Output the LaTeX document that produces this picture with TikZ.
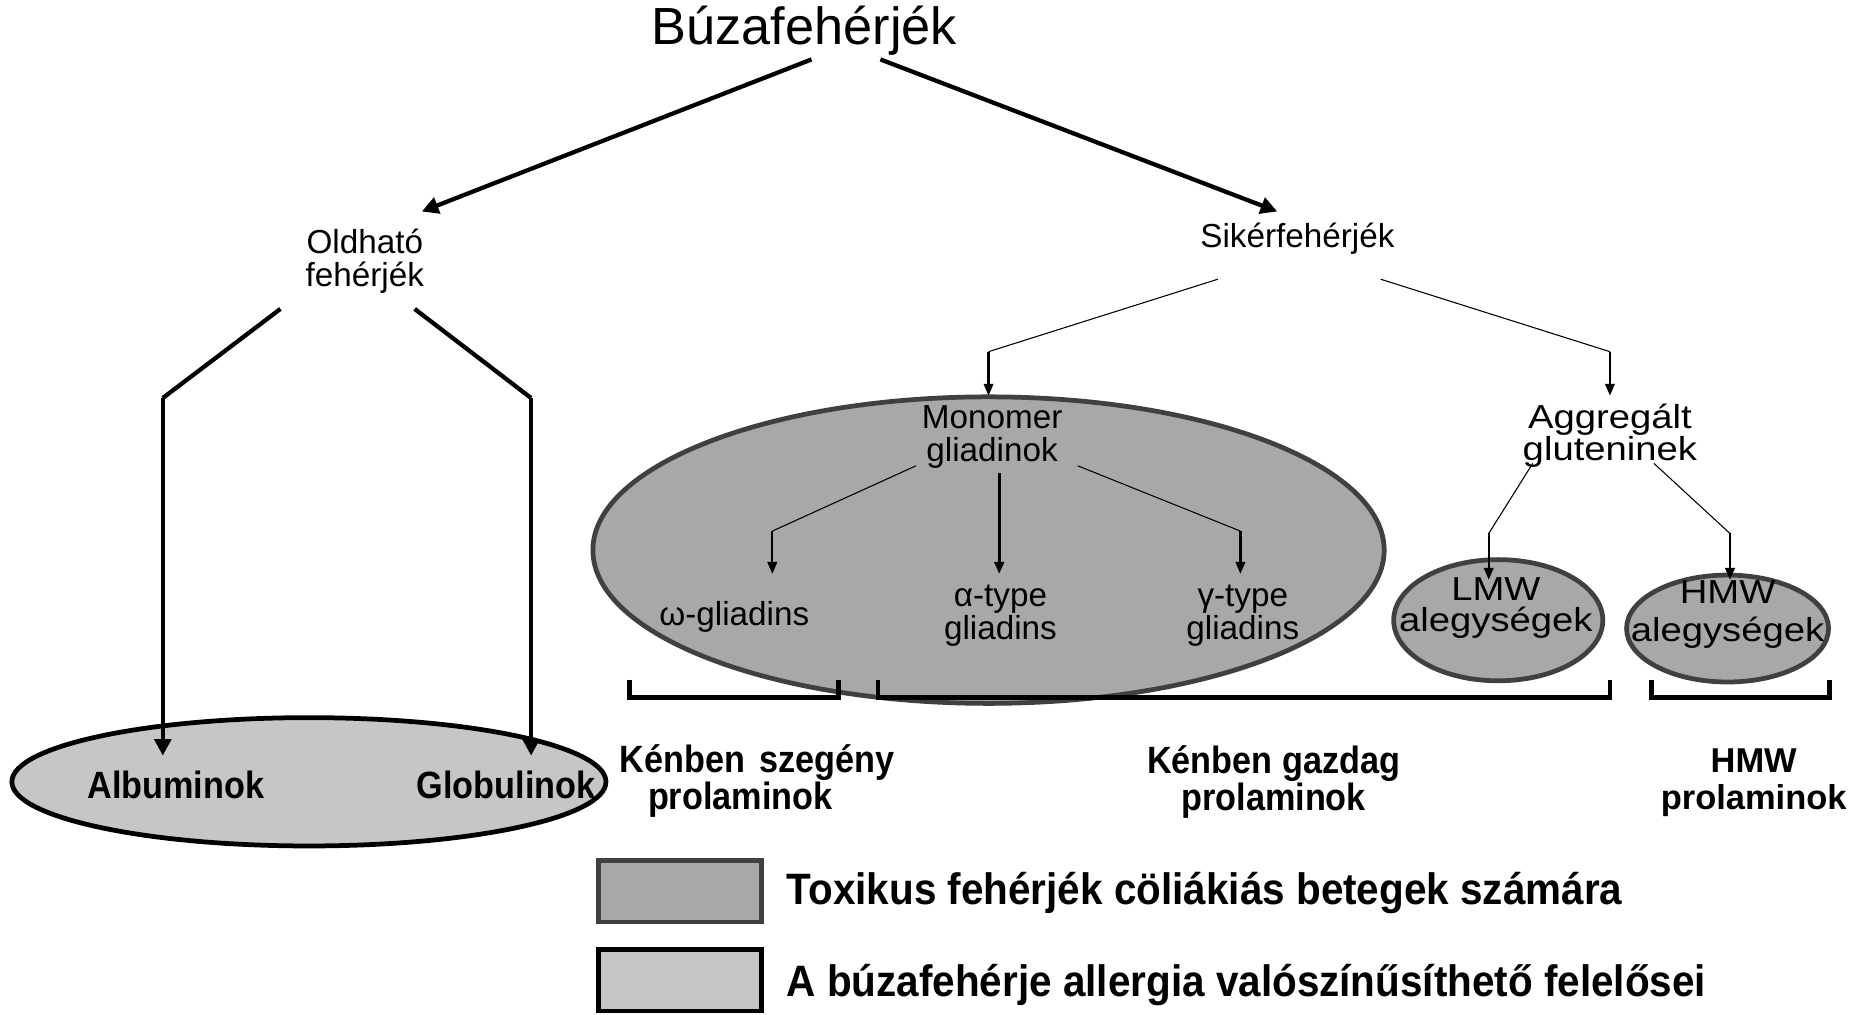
\documentclass[tikz,border=0pt]{standalone}
\usepackage{fontspec}
\setmainfont{Liberation Sans}
\newfontfamily\nbf{Liberation Sans}[FakeStretch=0.9]
\newfontfamily\lbf{Liberation Sans}[FakeStretch=0.92]
\newfontfamily\wide{Liberation Sans}[FakeStretch=1.15]
\usetikzlibrary{arrows.meta}
\definecolor{toxfill}{HTML}{A8A8A8}
\definecolor{toxdraw}{HTML}{404040}
\definecolor{algfill}{HTML}{C6C6C6}
\tikzset{
  lbl/.style={align=center,inner sep=0pt,font=\fontsize{28}{28}\selectfont},
  widelbl/.style={align=center,inner sep=0pt,font=\wide\fontsize{28}{27}\selectfont},
  bbold/.style={align=center,inner sep=0pt,font=\bfseries\fontsize{29}{31}\selectfont},
  cbold/.style={align=center,inner sep=0pt,font=\nbf\bfseries\fontsize{32}{31}\selectfont},
  legtext/.style={anchor=west,inner sep=0pt,font=\lbf\bfseries\fontsize{37}{37}\selectfont},
  bigarrow/.style={line width=3.6pt,-{Triangle[length=14pt,width=14pt]}},
  fatline/.style={line width=3.6pt},
  thinl/.style={line width=0.9pt},
  medarrow/.style={line width=1.8pt,-{Triangle[length=10pt,width=8pt]}},
  toxic/.style={fill=toxfill,draw=toxdraw,line width=4pt},
  allerg/.style={fill=algfill,draw=black,line width=4pt},
  bracket/.style={line width=4pt},
}
\begin{document}
\begin{tikzpicture}[x=1pt,y=-1pt]
\useasboundingbox (0,0) rectangle (1568,854);
% ellipses
\draw[allerg] (260,658) ellipse [x radius=250,y radius=54];
\draw[toxic] (832,463) ellipse [x radius=333,y radius=129];
\draw[toxic] (1261,522) ellipse [x radius=88,y radius=51];
\draw[toxic] (1454,529) ellipse [x radius=85,y radius=45];
% legend boxes
\node[toxic,minimum width=137pt,minimum height=52pt,inner sep=0pt] (leg1) at (572.5,750) {};
\node[allerg,minimum width=137pt,minimum height=52pt,inner sep=0pt] (leg2) at (572.5,825) {};
\node[legtext] (leg1t) at (662,752) {Toxikus fehérjék cöliákiás betegek számára};
\node[legtext] (leg2t) at (662,829) {A búzafehérje allergia valószínűsíthető felelősei};
% brackets
\draw[bracket] (530,572) |- (706,587) -- (706,572);
\draw[bracket] (739,572) |- (1355,587) -- (1355,572);
\draw[bracket] (1390,572) |- (1540,587) -- (1540,572);
% texts
\node[inner sep=0pt,font=\fontsize{44}{48}\selectfont] (title) at (677,26) {Búzafehérjék};
\node[lbl] (oldh) at (307,220) {Oldható\\fehérjék};
\node[lbl] (sik) at (1092,201) {Sikérfehérjék};
\node[lbl] (mono) at (835,368) {Monomer\\gliadinok};
\node[widelbl] (agg) at (1355,367) {Aggregált\\gluteninek};
\node[lbl] (omega) at (618,519) {ω-gliadins};
\node[lbl] (alpha) at (842,518) {α-type\\gliadins};
\node[lbl] (gamma) at (1046,518) {γ-type\\gliadins};
\node[widelbl,font=\wide\fontsize{28}{26}\selectfont] (lmw) at (1259,512) {LMW\\alegységek};
\node[widelbl,font=\wide\fontsize{28}{32}\selectfont] (hmw) at (1454,517) {HMW\\alegységek};
\node[cbold] (alb) at (148,661) {Albuminok};
\node[cbold] (glob) at (426,661) {Globulinok};
\node[cbold] (poor1) at (637,642) {Kénben\hspace{12pt}szegény};
\node[cbold] (poor2) at (623,673) {prolaminok};
\node[cbold] (rich) at (1072,658) {Kénben gazdag\\prolaminok};
\node[bbold] (hmwp) at (1476,659) {HMW\\prolaminok};
% connector coordinates
\coordinate (ta1) at (683,50); \coordinate (ta2) at (741,50);
\coordinate (oldhL) at (236,260); \coordinate (oldhLb) at (137,335); \coordinate (albtop) at (137,636);
\coordinate (oldhR) at (349,260); \coordinate (oldhRb) at (447,335); \coordinate (globtop) at (447,636);
\coordinate (sikL) at (1025,235); \coordinate (sikLb) at (832,296); \coordinate (monotop) at (832,333);
\coordinate (sikR) at (1162,235); \coordinate (sikRb) at (1355,296); \coordinate (aggtop) at (1355,333);
\coordinate (monoL) at (771,392); \coordinate (monoLb) at (650,447); \coordinate (omegatop) at (650,483);
\coordinate (monoM) at (841,398); \coordinate (alphatop) at (841,483);
\coordinate (monoR) at (907,392); \coordinate (monoRb) at (1044,447); \coordinate (gammatop) at (1044,483);
\coordinate (aggL) at (1290,390); \coordinate (aggLb) at (1253,449); \coordinate (lmwtop) at (1253,488);
\coordinate (aggR) at (1392,390); \coordinate (aggRb) at (1456,449); \coordinate (hmwtop) at (1456,488);
% connectors
\draw[bigarrow] (ta1) -- (355,178) coordinate (oldharr);
\draw[bigarrow] (ta2) -- (1075,178) coordinate (sikarr);
\draw[fatline] (oldhL) -- (oldhLb);
\draw[bigarrow] (oldhLb) -- (albtop);
\draw[fatline] (oldhR) -- (oldhRb);
\draw[bigarrow] (oldhRb) -- (globtop);
\draw[thinl] (sikL) -- (sikLb); \draw[medarrow] (sikLb) -- (monotop);
\draw[thinl] (sikR) -- (sikRb); \draw[medarrow] (sikRb) -- (aggtop);
\draw[thinl] (monoL) -- (monoLb); \draw[medarrow] (monoLb) -- (omegatop);
\draw[medarrow,line width=2.4pt] (monoM) -- (alphatop);
\draw[thinl] (monoR) -- (monoRb); \draw[medarrow] (monoRb) -- (gammatop);
\draw[thinl] (aggL) -- (aggLb); \draw[medarrow] (aggLb) -- (lmwtop);
\draw[thinl] (aggR) -- (aggRb); \draw[medarrow] (aggRb) -- (hmwtop);
\end{tikzpicture}
\end{document}
